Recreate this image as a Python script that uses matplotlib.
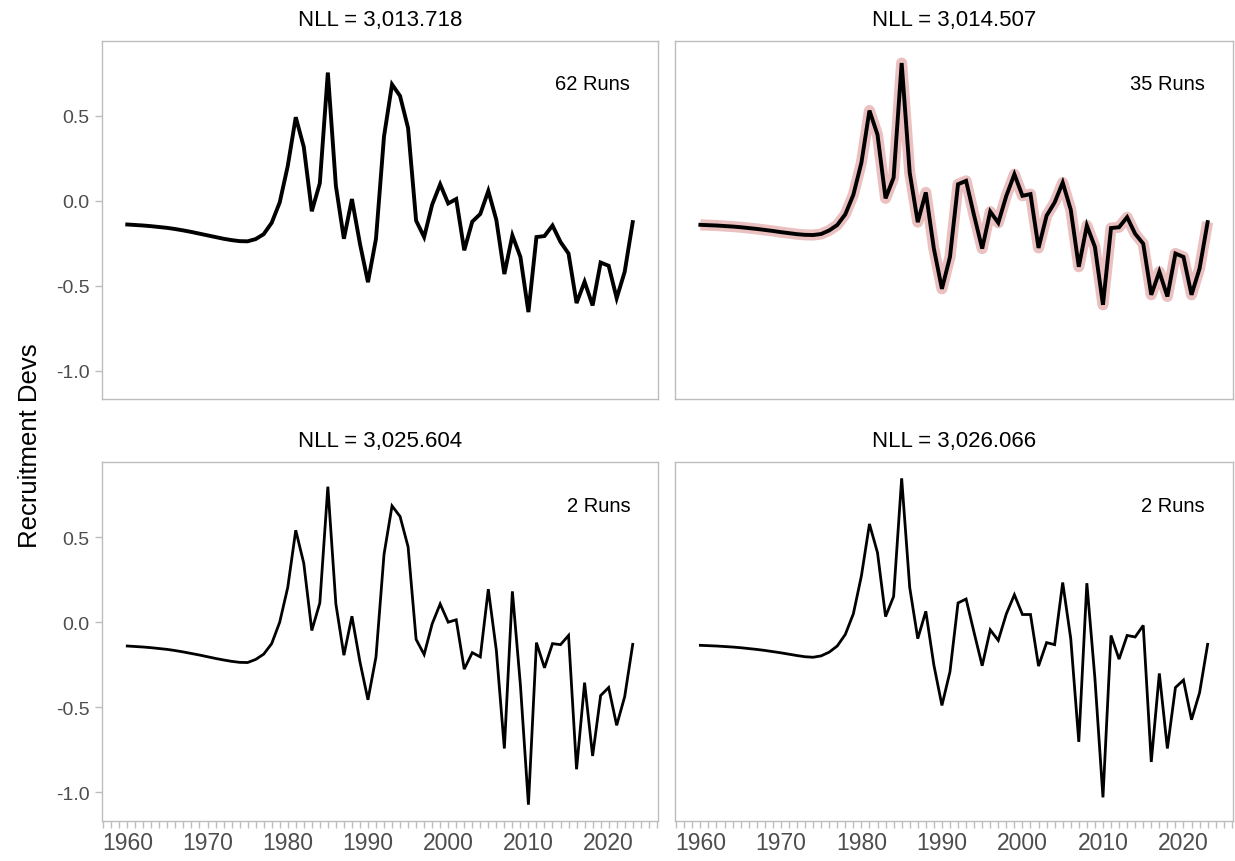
import numpy as np
import matplotlib
matplotlib.use("Agg")
import matplotlib.pyplot as plt
from matplotlib.ticker import MultipleLocator, FixedLocator

plt.rcParams["font.family"] = ["Liberation Sans", "DejaVu Sans"]

years = np.arange(1960, 2024)

nll_labels = ["NLL = 3,013.718", "NLL = 3,014.507", "NLL = 3,025.604", "NLL = 3,026.066"]
run_labels = ["62 Runs", "35 Runs", "2 Runs", "2 Runs"]

rec_devs_a = [-0.140, -0.143, -0.146, -0.150, -0.155, -0.160, -0.167, -0.175, -0.184, -0.194,
              -0.204, -0.214, -0.224, -0.232, -0.238, -0.239, -0.226, -0.197, -0.130, -0.010,
              0.204, 0.492, 0.317, -0.062, 0.103, 0.755, 0.088, -0.224, 0.010, -0.253,
              -0.480, -0.224, 0.379, 0.685, 0.617, 0.428, -0.117, -0.214, -0.023, 0.097,
              -0.016, 0.010, -0.292, -0.123, -0.078, 0.058, -0.113, -0.432, -0.204, -0.331,
              -0.656, -0.214, -0.208, -0.146, -0.243, -0.311, -0.603, -0.477, -0.617, -0.364,
              -0.383, -0.574, -0.418, -0.126]

rec_devs_b = [-0.142, -0.144, -0.146, -0.149, -0.152, -0.156, -0.161, -0.166, -0.172, -0.178,
              -0.185, -0.191, -0.197, -0.201, -0.202, -0.196, -0.175, -0.143, -0.080, 0.035,
              0.224, 0.531, 0.389, 0.014, 0.136, 0.811, 0.165, -0.126, 0.049, -0.282,
              -0.519, -0.331, 0.097, 0.117, -0.088, -0.282, -0.064, -0.130, 0.029, 0.156,
              0.029, 0.039, -0.278, -0.088, -0.010, 0.107, -0.053, -0.389, -0.146, -0.272,
              -0.613, -0.161, -0.156, -0.097, -0.195, -0.253, -0.554, -0.418, -0.564, -0.311,
              -0.331, -0.554, -0.399, -0.126]

rec_devs_c = [-0.140, -0.143, -0.146, -0.150, -0.155, -0.160, -0.167, -0.175, -0.184, -0.193,
              -0.203, -0.213, -0.222, -0.230, -0.236, -0.237, -0.219, -0.188, -0.126, 0.000,
              0.204, 0.540, 0.346, -0.049, 0.113, 0.796, 0.107, -0.194, 0.035, -0.233,
              -0.456, -0.204, 0.398, 0.683, 0.621, 0.443, -0.101, -0.190, -0.010, 0.107,
              0.000, 0.014, -0.276, -0.179, -0.204, 0.194, -0.165, -0.742, 0.181, -0.369,
              -1.072, -0.120, -0.268, -0.126, -0.132, -0.078, -0.864, -0.355, -0.786, -0.431,
              -0.384, -0.606, -0.437, -0.130]

rec_devs_d = [-0.136, -0.138, -0.140, -0.143, -0.146, -0.150, -0.155, -0.160, -0.166, -0.173,
              -0.180, -0.188, -0.196, -0.203, -0.206, -0.198, -0.176, -0.140, -0.072, 0.049,
              0.272, 0.577, 0.408, 0.033, 0.151, 0.845, 0.204, -0.097, 0.064, -0.252,
              -0.489, -0.291, 0.113, 0.136, -0.062, -0.256, -0.045, -0.107, 0.049, 0.161,
              0.045, 0.045, -0.258, -0.120, -0.132, 0.233, -0.097, -0.703, 0.229, -0.330,
              -1.029, -0.078, -0.217, -0.078, -0.087, -0.019, -0.821, -0.301, -0.742, -0.384,
              -0.340, -0.573, -0.414, -0.130]

series = [rec_devs_a, rec_devs_b, rec_devs_c, rec_devs_d]
highlight = [False, True, False, False]
line_widths = [2.8, 2.8, 2.0, 2.0]

y_ticks = [-1.0, -0.5, 0.0, 0.5]
x_ticks = [1960, 1970, 1980, 1990, 2000, 2010, 2020]

# shared scales with 5% padding on each side
all_vals = np.concatenate([np.asarray(s) for s in series])
y_lo, y_hi = all_vals.min(), all_vals.max()
y_pad = 0.05 * (y_hi - y_lo)
x_pad = 0.05 * (years[-1] - years[0])

W, H = 1235, 862
fig = plt.figure(figsize=(W / 100, H / 100), dpi=100)
fig.patch.set_facecolor("white")

frame_col = "#bdbdbd"
tick_text_col = "#4d4d4d"

# panel rectangles in pixels: left, top, right, bottom
boxes = [(102, 42, 658, 400), (675, 42, 1233, 400),
         (102, 463, 658, 822), (675, 463, 1233, 822)]

for i, (l, t, r, b) in enumerate(boxes):
    ax = fig.add_axes([l / W, 1 - b / H, (r - l) / W, (b - t) / H])
    vals = series[i]
    if highlight[i]:
        ax.plot(years, vals, color="#eac0c0", lw=8, solid_capstyle="butt",
                solid_joinstyle="round", zorder=2)
    ax.plot(years, vals, color="black", lw=line_widths[i], solid_joinstyle="miter",
            zorder=3)
    ax.set_xlim(years[0] - x_pad, years[-1] + x_pad)
    ax.set_ylim(y_lo - y_pad, y_hi + y_pad)
    for sp in ax.spines.values():
        sp.set_color(frame_col)
        sp.set_linewidth(1.0)

    # panel heading centred over the frame
    fig.text((l + r) / 2 / W, 1 - (t - 16) / H, nll_labels[i], ha="center",
             va="baseline", fontsize=16, color="black")
    ax.text(0.95, 0.88, run_labels[i], transform=ax.transAxes, ha="right",
            va="center", fontsize=14.5, color="black")

    left_col = (i % 2 == 0)
    bottom_row = (i >= 2)

    ax.yaxis.set_major_locator(FixedLocator(y_ticks))
    ax.xaxis.set_major_locator(FixedLocator(x_ticks))
    ax.xaxis.set_minor_locator(MultipleLocator(1))
    ax.tick_params(axis="both", which="both", color=frame_col, width=1.0,
                   length=5, labelcolor=tick_text_col)
    ax.tick_params(axis="y", labelsize=14, pad=4)
    ax.tick_params(axis="x", labelsize=16.5, pad=2)

    if left_col:
        ax.set_yticklabels([f"{v:.1f}" for v in y_ticks])
    else:
        ax.tick_params(axis="y", left=False, labelleft=False)
    if bottom_row:
        ax.set_xticklabels([str(v) for v in x_ticks])
    else:
        ax.tick_params(axis="x", which="both", bottom=False, labelbottom=False)

fig.text(30 / W, 1 - 446 / H, "Recruitment Devs", rotation=90, ha="center",
         va="center", fontsize=18.5, color="black")

fig.savefig("out.png", dpi=100, facecolor="white")
